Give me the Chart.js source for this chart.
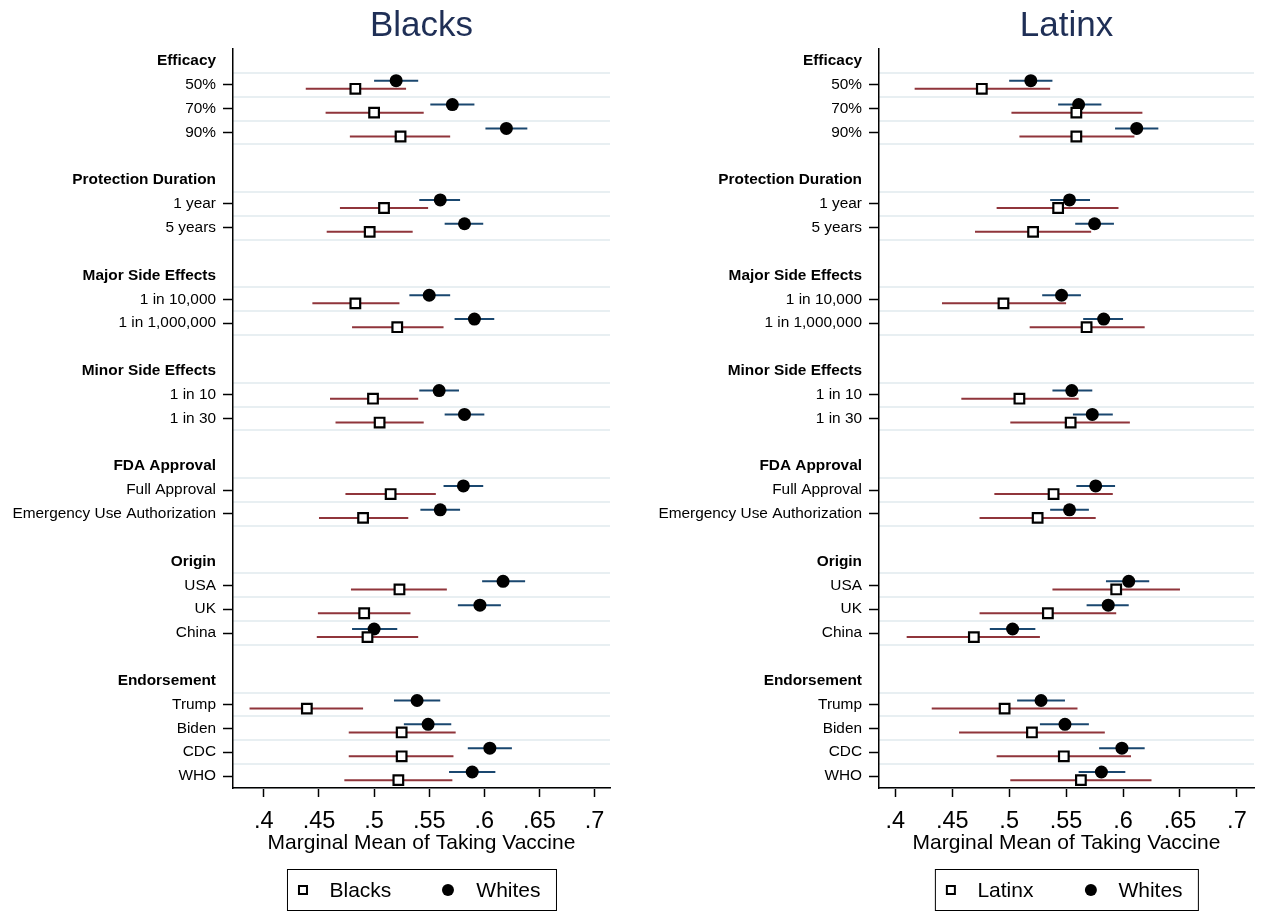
<!DOCTYPE html>
<html>
<head>
<meta charset="utf-8">
<script src="https://cdn.jsdelivr.net/npm/chart.js@4.4.0/dist/chart.umd.min.js"></script>
<style>
  body { margin: 0; background: #fff; width: 1263px; height: 913px; position: relative; overflow: hidden; }
  canvas { position: absolute; top: 0; }
  .legend {
    position: absolute; top: 869px; height: 42px; transform: translateX(-50%);
    border: 1.5px solid #000; box-sizing: border-box; display: flex; align-items: center;
    padding: 0 15px 0 10px; font: 21px "Liberation Sans", Arial, sans-serif; color: #000; white-space: nowrap;
  }
  .sq { width: 10px; height: 10px; border: 2.5px solid #000; box-sizing: border-box; margin-right: 22px; }
  .dt { width: 12px; height: 12px; border-radius: 50%; background: #000; margin-left: 51px; margin-right: 22px; }
</style>
</head>
<body>
<canvas id="left" width="631" height="913" style="left:0"></canvas>
<canvas id="right" width="632" height="913" style="left:631px"></canvas>
<div class="legend" id="legLeft"><span class="sq"></span><span class="lt"></span><span class="dt"></span><span class="lt"></span></div>
<div class="legend" id="legRight"><span class="sq"></span><span class="lt"></span><span class="dt"></span><span class="lt"></span></div>
<script>
const FONT = '"Liberation Sans", Arial, sans-serif';

// attributes and levels (top to bottom)
const groups = ['Efficacy', 'Protection Duration', 'Major Side Effects', 'Minor Side Effects', 'FDA Approval', 'Origin', 'Endorsement'];
const levels = [
  ['50%', '70%', '90%'],
  ['1 year', '5 years'],
  ['1 in 10,000', '1 in 1,000,000'],
  ['1 in 10', '1 in 30'],
  ['Full Approval', 'Emergency Use Authorization'],
  ['USA', 'UK', 'China'],
  ['Trump', 'Biden', 'CDC', 'WHO']
];
const xTicks = [0.4, 0.45, 0.5, 0.55, 0.6, 0.65, 0.7];

// Blacks panel
const whitesB   = [.520, .571, .620, .560, .582, .550, .591, .559, .582, .581, .560, .617, .596, .500, .539, .549, .605, .589];
const whitesBlo = [.500, .551, .601, .541, .564, .532, .573, .541, .564, .563, .542, .598, .576, .480, .518, .527, .585, .568];
const whitesBhi = [.540, .591, .639, .578, .599, .569, .609, .577, .600, .599, .578, .637, .615, .521, .560, .570, .625, .610];
const blacks    = [.483, .500, .524, .509, .496, .483, .521, .499, .505, .515, .490, .523, .491, .494, .439, .525, .525, .522];
const blacksLo  = [.438, .456, .478, .469, .457, .444, .480, .460, .465, .474, .450, .479, .449, .448, .387, .477, .477, .473];
const blacksHi  = [.529, .545, .569, .549, .535, .523, .563, .540, .545, .556, .531, .566, .533, .540, .490, .574, .572, .571];

// Latinx panel
const whitesL   = [.519, .561, .612, .553, .575, .546, .583, .555, .573, .576, .553, .605, .587, .503, .528, .549, .599, .581];
const whitesLlo = [.500, .543, .593, .536, .558, .529, .565, .538, .556, .559, .536, .585, .568, .483, .507, .527, .579, .561];
const whitesLhi = [.538, .581, .631, .571, .592, .563, .600, .573, .591, .593, .570, .623, .605, .523, .549, .570, .619, .602];
const latinx    = [.476, .559, .559, .543, .521, .495, .568, .509, .554, .539, .525, .594, .534, .469, .496, .520, .548, .563];
const latinxLo  = [.417, .502, .509, .489, .470, .441, .518, .458, .501, .487, .474, .538, .474, .410, .432, .456, .489, .501];
const latinxHi  = [.536, .617, .610, .596, .572, .550, .619, .561, .606, .591, .576, .650, .594, .527, .560, .584, .607, .625];

// rows: header, levels, blank row
const rowText = {};
const headerSlots = [];
const itemSlots = [];
let slot = 0;
groups.forEach((g, i) => {
  rowText[slot] = g; headerSlots.push(slot); slot++;
  levels[i].forEach(l => { rowText[slot] = l; itemSlots.push(slot); slot++; });
  slot++;
});
const labelSlots = headerSlots.concat(itemSlots).sort((a, b) => a - b);
const gridSlots = [...new Set(itemSlots.flatMap(s => [s - 0.5, s + 0.5]))];
const OFF = 0.17;

function ciLine(lo, hi, shift) {
  const pts = [];
  itemSlots.forEach((s, i) => {
    pts.push({ x: lo[i], y: s + shift }, { x: hi[i], y: s + shift }, { x: null, y: null });
  });
  return pts;
}
function marks(vals, shift) {
  return itemSlots.map((s, i) => ({ x: vals[i], y: s + shift }));
}

const panelTitle = {
  id: 'panelTitle',
  afterDraw(chart, args, opts) {
    const { ctx, chartArea } = chart;
    ctx.save();
    ctx.font = '35px ' + FONT;
    ctx.fillStyle = '#1f2f56';
    ctx.textAlign = 'center';
    ctx.textBaseline = 'alphabetic';
    ctx.fillText(opts.text, (chartArea.left + chartArea.right) / 2, 36);
    ctx.restore();
  }
};

function makePanel(id, title, name, m, lo, hi, wm, wlo, whi, xMin, xMax, axisW, padRight) {
  return new Chart(document.getElementById(id), {
    type: 'scatter',
    plugins: [panelTitle],
    data: {
      datasets: [
        { label: name + ' CI', data: ciLine(lo, hi, OFF), showLine: true, pointRadius: 0, borderColor: '#90353b', borderWidth: 2, borderCapStyle: 'butt', spanGaps: false, order: 3 },
        { label: 'Whites CI', data: ciLine(wlo, whi, -OFF), showLine: true, pointRadius: 0, borderColor: '#1a476f', borderWidth: 2, borderCapStyle: 'butt', spanGaps: false, order: 2 },
        { label: 'Whites', data: marks(wm, -OFF), pointStyle: 'circle', pointRadius: 6.5, backgroundColor: '#000', borderColor: '#000', borderWidth: 0, order: 1 },
        { label: name, data: marks(m, OFF), pointStyle: 'rect', pointRadius: 6.8, backgroundColor: '#fff', borderColor: '#000', borderWidth: 2.2, order: 0 }
      ]
    },
    options: {
      responsive: false,
      animation: false,
      events: [],
      layout: { padding: { top: 49, right: padRight, left: 0, bottom: 0 } },
      plugins: {
        legend: { display: false },
        tooltip: { enabled: false },
        panelTitle: { text: title }
      },
      scales: {
        x: {
          type: 'linear', min: xMin, max: xMax,
          afterBuildTicks: s => { s.ticks = xTicks.map(v => ({ value: v })); },
          afterFit: s => { s.height = 125; },
          ticks: { color: '#000', padding: 10, font: { family: FONT, size: 23.5 }, callback: v => String(v).replace(/^0\./, '.') },
          grid: { drawOnChartArea: false, tickLength: 9, tickWidth: 1.5, tickColor: '#000' },
          border: { display: true, color: '#000', width: 1.5 },
          title: { display: true, text: 'Marginal Mean of Taking Vaccine', color: '#000', font: { family: FONT, size: 21 }, padding: { top: 0, bottom: 57 } }
        },
        y: {
          type: 'linear', position: 'left', reverse: true, min: -0.5, max: 30.5, offset: false,
          afterBuildTicks: s => { s.ticks = labelSlots.map(v => ({ value: v })); },
          afterFit: s => { s.width = axisW; },
          ticks: {
            autoSkip: false, padding: 7, color: '#000',
            font: c => ({ family: FONT, size: 15.4, weight: (c.tick && headerSlots.includes(c.tick.value)) ? 'bold' : 'normal' }),
            callback: v => rowText[v]
          },
          grid: {
            drawOnChartArea: false, tickLength: 10, tickWidth: 1.5,
            tickColor: c => (c.tick && headerSlots.includes(c.tick.value)) ? 'rgba(0,0,0,0)' : '#000'
          },
          border: { display: true, color: '#000', width: 1.5 }
        },
        yg: {
          type: 'linear', axis: 'y', position: 'left', reverse: true, min: -0.5, max: 30.5, offset: false,
          afterBuildTicks: s => { s.ticks = gridSlots.map(v => ({ value: v })); },
          afterFit: s => { s.width = 0; },
          ticks: { display: false },
          border: { display: false },
          grid: { color: '#e8eff2', lineWidth: 2, drawTicks: false }
        }
      }
    }
  });
}

const chartLeft = makePanel('left', 'Blacks', 'Blacks', blacks, blacksLo, blacksHi, whitesB, whitesBlo, whitesBhi, 0.372, 0.714, 233, 21);
const chartRight = makePanel('right', 'Latinx', 'Latinx', latinx, latinxLo, latinxHi, whitesL, whitesLlo, whitesLhi, 0.3857, 0.715, 248, 5);

function placeLegend(elId, chart, canvasLeft, name) {
  const el = document.getElementById(elId);
  const t = el.querySelectorAll('.lt');
  t[0].textContent = name;
  t[1].textContent = 'Whites';
  const ca = chart.chartArea;
  el.style.left = (canvasLeft + (ca.left + ca.right) / 2) + 'px';
}
placeLegend('legLeft', chartLeft, 0, 'Blacks');
placeLegend('legRight', chartRight, 631, 'Latinx');
</script>
</body>
</html>
